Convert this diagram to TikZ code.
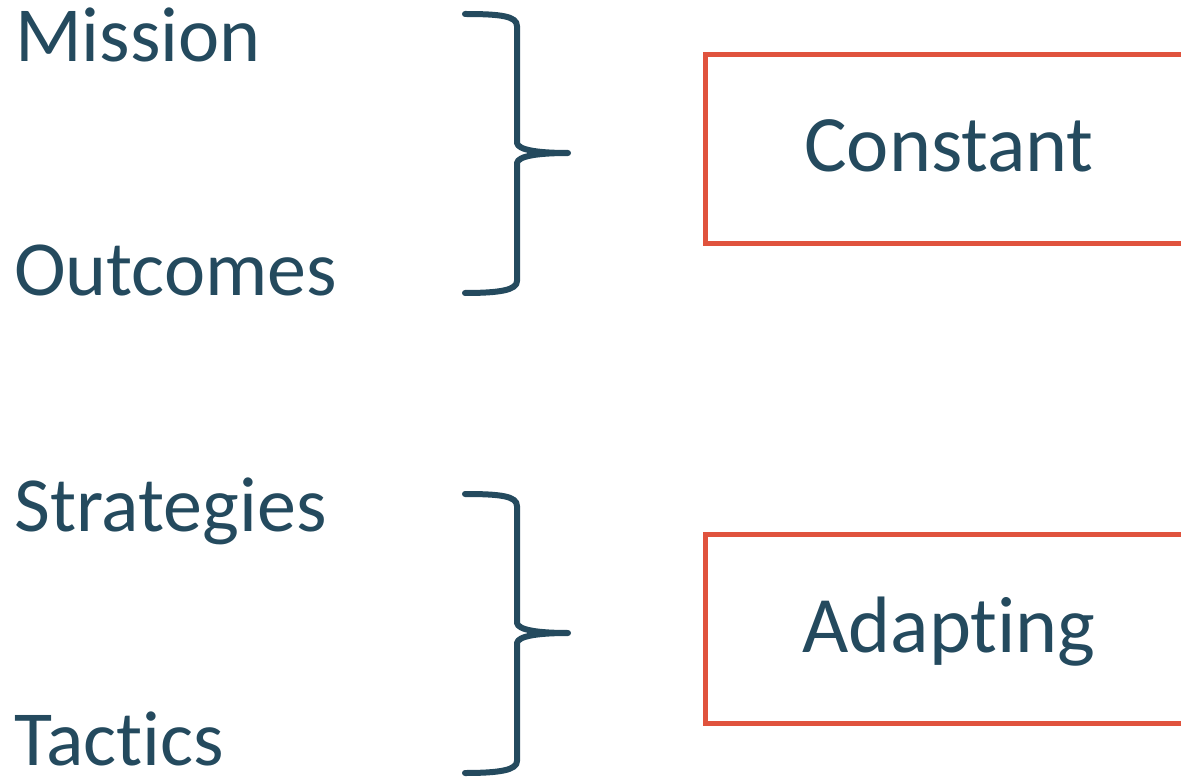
\documentclass[tikz,border=0pt]{standalone}
\usepackage{fontspec}
\setmainfont{Carlito}[Ligatures={NoCommon,NoRare,NoContextual}]
\definecolor{txtblue}{HTML}{244A5E}
\definecolor{boxred}{HTML}{E0533D}
\begin{document}
\begin{tikzpicture}[x=1pt,y=-1pt,
  lbl/.style={anchor=base west,inner sep=0pt,text depth=0pt,text=txtblue,font=\fontsize{78}{90}\selectfont},
  boxtxt/.style={anchor=base,inner sep=0pt,text depth=0pt,text=txtblue,font=\fontsize{80}{90}\selectfont},
  redbox/.style={draw=boxred,line width=5pt},
  bracestyle/.style={draw=txtblue,line width=6pt,line cap=round,line join=round}]
\useasboundingbox (0,0) rectangle (1181,778);
\clip (0,0) rectangle (1181,778);
% left labels
\node[lbl] (mission) at (15,62) {Mission};
\node[lbl] (outcomes) at (14,295) {Outcomes};
\node[lbl] (strategies) at (14,531) {Strategies};
\node[lbl] (tactics) at (14,765) {Tactics};
% boxes
\draw[redbox] (705.5,54.5) rectangle (1200,243.5);
\draw[redbox] (705.5,534) rectangle (1200,723.5);
\node[boxtxt] (constant) at (949,172) {Constant};
\node[boxtxt] (adapting) at (949,652) {Adapting};
% braces
\draw[bracestyle] (465,14) .. controls (500,14) and (517,16) .. (517,26) -- (517,143)
  .. controls (518,150) and (538,153) .. (568,153)
  .. controls (538,153) and (518,156) .. (517,163) -- (517,281)
  .. controls (517,290) and (500,293) .. (465,293);
\draw[bracestyle] (465,494) .. controls (500,494) and (517,496) .. (517,506) -- (517,623)
  .. controls (518,630) and (538,633) .. (568,633)
  .. controls (538,633) and (518,636) .. (517,643) -- (517,761)
  .. controls (517,770) and (500,773) .. (465,773);
\end{tikzpicture}
\end{document}
